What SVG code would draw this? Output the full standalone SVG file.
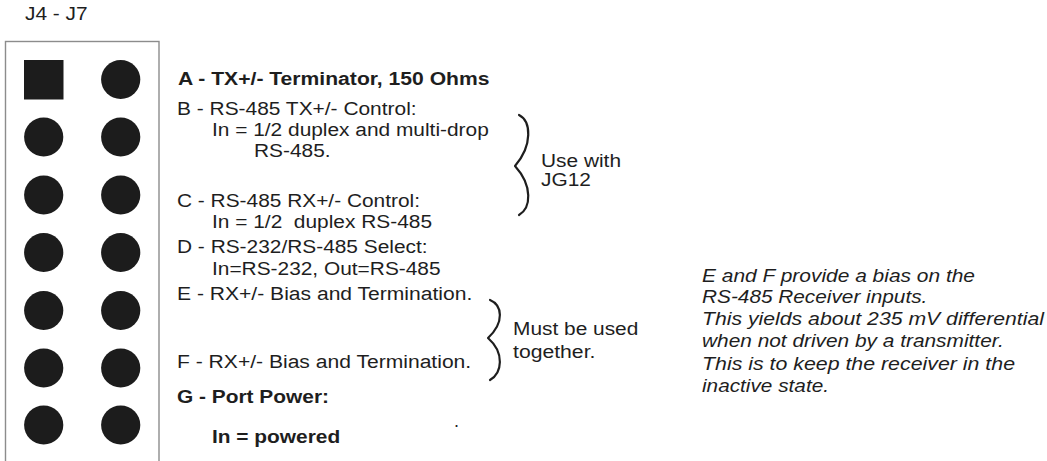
<svg xmlns="http://www.w3.org/2000/svg" width="1047" height="461" viewBox="0 0 1047 461">
<style>
.t{font-family:"Liberation Sans",Arial,sans-serif;font-size:18px;fill:#1e1e1e}
.b{font-weight:bold}
.i{font-family:"Liberation Sans",Arial,sans-serif;font-size:19px;font-style:italic;fill:#1e1e1e}
.pin{fill:#1c1c1c}
.brace{fill:none;stroke:#1e1e1e;stroke-width:2.2;stroke-linecap:round;stroke-linejoin:round}
.pre{white-space:pre}
</style>
<rect width="1047" height="461" fill="#ffffff"/>
<g id="title">
<text class="t" x="25" y="20" textLength="62.7" lengthAdjust="spacingAndGlyphs">J4 - J7</text>
</g>
<g id="header-box">
<rect x="5.5" y="41.5" width="153.5" height="440" fill="none" stroke="#8c8c8c" stroke-width="1.4"/>
</g>
<g id="pins">
<rect class="pin" x="24" y="60" width="39.5" height="39.5"/>
<circle class="pin" cx="120.7" cy="79.5" r="19.6"/>
<circle class="pin" cx="43.7" cy="137" r="19.6"/>
<circle class="pin" cx="120.7" cy="137" r="19.6"/>
<circle class="pin" cx="43.7" cy="195" r="19.6"/>
<circle class="pin" cx="120.7" cy="195" r="19.6"/>
<circle class="pin" cx="43.7" cy="252.5" r="19.6"/>
<circle class="pin" cx="120.7" cy="252.5" r="19.6"/>
<circle class="pin" cx="43.7" cy="310.5" r="19.6"/>
<circle class="pin" cx="120.7" cy="310.5" r="19.6"/>
<circle class="pin" cx="43.7" cy="368" r="19.6"/>
<circle class="pin" cx="120.7" cy="368" r="19.6"/>
<circle class="pin" cx="43.7" cy="425" r="19.6"/>
<circle class="pin" cx="120.7" cy="425" r="19.6"/>
</g>
<g id="label-A">
<text class="t b" x="178" y="85" textLength="311.5" lengthAdjust="spacingAndGlyphs">A - TX+/- Terminator, 150 Ohms</text>
</g>
<g id="label-B">
<text class="t" x="177" y="115" textLength="239.6" lengthAdjust="spacingAndGlyphs">B - RS-485 TX+/- Control:</text>
<text class="t" x="212" y="136" textLength="276.8" lengthAdjust="spacingAndGlyphs">In = 1/2 duplex and multi-drop</text>
<text class="t" x="254" y="157" textLength="76.6" lengthAdjust="spacingAndGlyphs">RS-485.</text>
</g>
<g id="label-C">
<text class="t" x="177" y="207" textLength="243" lengthAdjust="spacingAndGlyphs">C - RS-485 RX+/- Control:</text>
<text class="t pre" x="212" y="228" textLength="220" lengthAdjust="spacingAndGlyphs">In = 1/2  duplex RS-485</text>
</g>
<g id="label-D">
<text class="t" x="177" y="253" textLength="250.6" lengthAdjust="spacingAndGlyphs">D - RS-232/RS-485 Select:</text>
<text class="t" x="212" y="275" textLength="228.6" lengthAdjust="spacingAndGlyphs">In=RS-232, Out=RS-485</text>
</g>
<g id="label-E">
<text class="t" x="177" y="300" textLength="295.3" lengthAdjust="spacingAndGlyphs">E - RX+/- Bias and Termination.</text>
</g>
<g id="label-F">
<text class="t" x="177" y="368" textLength="294.2" lengthAdjust="spacingAndGlyphs">F - RX+/- Bias and Termination.</text>
</g>
<g id="label-G">
<text class="t b" x="177" y="403" textLength="152" lengthAdjust="spacingAndGlyphs">G - Port Power:</text>
<text class="t b" x="212" y="443" textLength="128.2" lengthAdjust="spacingAndGlyphs">In = powered</text>
<text class="t" x="454" y="427">.</text>
</g>
<g id="connectors">
<path class="brace" d="M519,115 C531,121 533,145 515,166 C533,186 531,208 519,215"/>
<path class="brace" d="M490,300 C502,305 505,322 488,338 C505,353 502,373 490,380"/>
</g>
<g id="note-BC">
<text class="t" x="541" y="167" textLength="80" lengthAdjust="spacingAndGlyphs">Use with</text>
<text class="t" x="541" y="186" textLength="49.9" lengthAdjust="spacingAndGlyphs">JG12</text>
</g>
<g id="note-EF">
<text class="t" x="513" y="335" textLength="125.3" lengthAdjust="spacingAndGlyphs">Must be used</text>
<text class="t" x="513" y="358" textLength="82.4" lengthAdjust="spacingAndGlyphs">together.</text>
</g>
<g id="bias-note">
<text class="i" x="702" y="282" textLength="273" lengthAdjust="spacingAndGlyphs">E and F provide a bias on the</text>
<text class="i" x="702" y="303" textLength="225.4" lengthAdjust="spacingAndGlyphs">RS-485 Receiver inputs.</text>
<text class="i" x="702" y="325" textLength="342" lengthAdjust="spacingAndGlyphs">This yields about 235 mV differential</text>
<text class="i" x="702" y="347" textLength="301.7" lengthAdjust="spacingAndGlyphs">when not driven by a transmitter.</text>
<text class="i" x="702" y="370" textLength="313" lengthAdjust="spacingAndGlyphs">This is to keep the receiver in the</text>
<text class="i" x="702" y="392" textLength="127" lengthAdjust="spacingAndGlyphs">inactive state.</text>
</g>
</svg>
